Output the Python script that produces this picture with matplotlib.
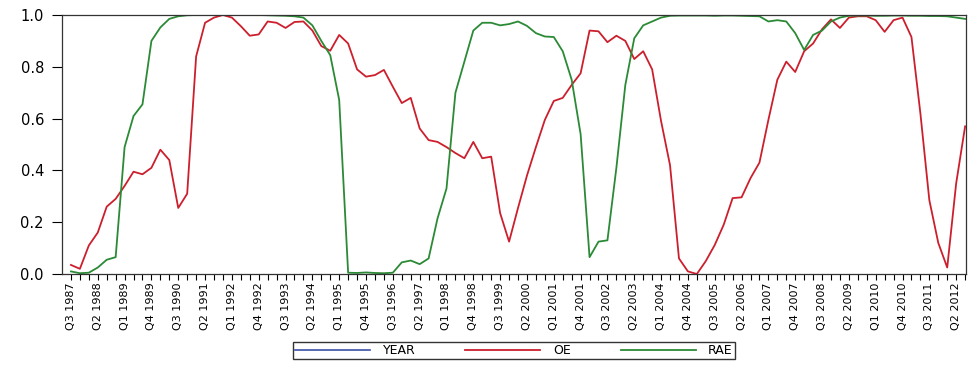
import matplotlib.pyplot as plt
import numpy as np

# quarterly axis labels, one every third quarter
tick_labels = ["Q3 1987", "Q2 1988", "Q1 1989", "Q4 1989", "Q3 1990", "Q2 1991",
               "Q1 1992", "Q4 1992", "Q3 1993", "Q2 1994", "Q1 1995", "Q4 1995",
               "Q3 1996", "Q2 1997", "Q1 1998", "Q4 1998", "Q3 1999", "Q2 2000",
               "Q1 2001", "Q4 2001", "Q3 2002", "Q2 2003", "Q1 2004", "Q4 2004",
               "Q3 2005", "Q2 2006", "Q1 2007", "Q4 2007", "Q3 2008", "Q2 2009",
               "Q1 2010", "Q4 2010", "Q3 2011", "Q2 2012"]

# Q3 1987 .. Q3 2012
oe = [0.035, 0.02, 0.11, 0.16, 0.26, 0.29, 0.34, 0.395, 0.385, 0.41,
      0.48, 0.44, 0.255, 0.31, 0.84, 0.97, 0.99, 1.0, 0.99, 0.957,
      0.92, 0.925, 0.975, 0.97, 0.95, 0.973, 0.975, 0.94, 0.88, 0.862,
      0.923, 0.89, 0.79, 0.762, 0.768, 0.788, 0.723, 0.66, 0.68, 0.562,
      0.517, 0.51, 0.49, 0.467, 0.447, 0.51, 0.447, 0.453, 0.235, 0.125,
      0.255, 0.38, 0.49, 0.595, 0.668, 0.68, 0.73, 0.775, 0.94, 0.937,
      0.895, 0.92, 0.90, 0.83, 0.86, 0.79, 0.59, 0.42, 0.06, 0.01,
      0.0, 0.05, 0.112, 0.19, 0.293, 0.296, 0.37, 0.43, 0.595, 0.75,
      0.82, 0.78, 0.86, 0.89, 0.945, 0.983, 0.95, 0.99, 0.995, 0.995,
      0.98, 0.935, 0.98, 0.99, 0.915, 0.62, 0.285, 0.12, 0.025, 0.35,
      0.57]

rae = [0.01, 0.003, 0.005, 0.025, 0.055, 0.065, 0.49, 0.61, 0.655, 0.90,
       0.952, 0.985, 0.995, 0.999, 1.0, 1.0, 1.0, 1.0, 1.0, 1.0,
       1.0, 1.0, 0.999, 0.998, 0.997, 0.995, 0.99, 0.96, 0.90, 0.845,
       0.672, 0.005, 0.004, 0.006, 0.004, 0.003, 0.005, 0.045, 0.052, 0.038,
       0.06, 0.215, 0.33, 0.70, 0.82, 0.94, 0.97, 0.97, 0.96, 0.965,
       0.975, 0.958, 0.93, 0.917, 0.915, 0.86, 0.75, 0.54, 0.065, 0.125,
       0.13, 0.41, 0.73, 0.91, 0.96, 0.975, 0.99, 0.997, 0.998, 0.998,
       0.998, 0.998, 0.997, 0.998, 0.998, 0.997, 0.996, 0.995, 0.975, 0.98,
       0.975, 0.93, 0.865, 0.923, 0.94, 0.975, 0.99, 0.997, 0.998, 0.998,
       0.997, 0.997, 0.998, 0.998, 0.997, 0.997, 0.996, 0.996, 0.995, 0.99,
       0.985]

plt.rcParams['font.family'] = ['DejaVu Sans']

x = np.arange(len(oe))

fig = plt.figure(figsize=(9.69, 3.65), dpi=100)
ax = fig.add_axes([62 / 969, 1 - 274 / 365, 904 / 969, 259 / 365])

# YEAR sits far above the 0..1 range, so only its legend entry shows
ax.plot([], [], color='#3a4fa8', lw=1.2, label='YEAR')
ax.plot(x, oe, color='#cc1f2d', lw=1.3, label='OE')
ax.plot(x, rae, color='#2b8a35', lw=1.3, label='RAE')

ax.set_xlim(-1, 100.1)
ax.set_ylim(0, 1)

ax.set_xticks(np.arange(0, 3 * len(tick_labels), 3))
ax.set_xticklabels(tick_labels, rotation=90, fontsize=8)
ax.set_xticks(x, minor=True)
ax.tick_params(axis='x', which='both', direction='out', length=4, width=0.8, pad=2)

ax.set_yticks(np.arange(0, 1.01, 0.2))
ax.set_yticklabels(['0.0', '0.2', '0.4', '0.6', '0.8', '1.0'], fontsize=10.5)
ax.tick_params(axis='y', direction='out', length=7, width=0.8, pad=6)

for sp in ax.spines.values():
    sp.set_linewidth(0.9)
    sp.set_color('#333333')

leg = fig.legend(loc='upper center', bbox_to_anchor=(514 / 969, 1 - 342 / 365),
                 ncol=3, frameon=True, fancybox=False, edgecolor='black',
                 fontsize=9, handlelength=6.0, handletextpad=1.0,
                 columnspacing=4.0, borderpad=0.15, borderaxespad=0)
leg.get_frame().set_linewidth(1.0)

fig.savefig('out.png', dpi=100)
